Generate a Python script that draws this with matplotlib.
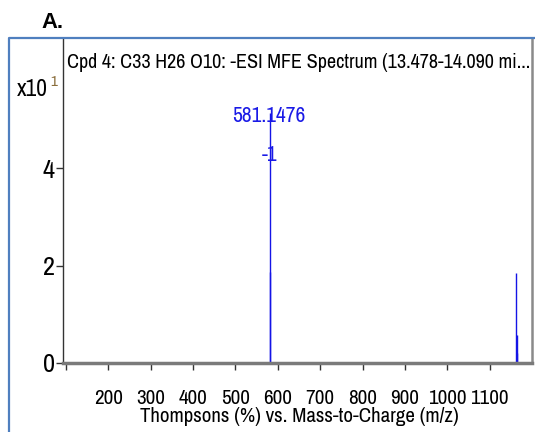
import matplotlib
matplotlib.use("Agg")
import matplotlib.pyplot as plt
from matplotlib.lines import Line2D

## spectrum data (intensity in units of x10^1)
mz = [581.1476, 582.15, 1163.30, 1164.30, 1165.30]
intensity = [5.13, 1.87, 1.85, 0.57, 0.20]
peak_label = "581.1476"
charge_label = "-1"
xtick_vals = [100, 200, 300, 400, 500, 600, 700, 800, 900, 1000, 1100]
xtick_text = ["", "200", "300", "400", "500", "600", "700", "800", "900", "1000", "1100"]
ytick_vals = [0, 2, 4]
title = "Cpd 4: C33 H26 O10: -ESI MFE Spectrum (13.478-14.090 mi..."
xlabel = "Thompsons (%) vs. Mass-to-Charge (m/z)"

narrow = ["Archivo Narrow", "Roboto Condensed", "DejaVu Sans"]
W, H = 535, 432

fig = plt.figure(figsize=(W/100, H/100), dpi=100)
renderer = fig.canvas.get_renderer()


def size_for_width(s, px, **kw):
    # font size (pt) that makes string s about px pixels wide
    t = fig.text(0, 0, s, fontsize=20, **kw)
    w = t.get_window_extent(renderer).width
    t.remove()
    return 20 * px / w


def fx(px):
    return px / W


def fy(py):
    return 1 - py / H


ax = fig.add_axes([fx(63), fy(363), (532 - 63)/W, (363 - 39)/H])

ax.vlines(mz, 0, intensity, colors="#1414e6", lw=1.0)

ax.set_xlim(93, 1200)
ax.set_ylim(0, 6.65)

xs = size_for_width("200", 29, family=narrow)
ys = size_for_width("4", 12, family=narrow)
ax.set_xticks(xtick_vals)
ax.set_xticklabels(xtick_text, family=narrow, fontsize=xs)
ax.set_yticks(ytick_vals)
ax.set_yticklabels([str(v) for v in ytick_vals], family=narrow, fontsize=ys)
ax.tick_params(axis="both", length=5, width=1, color="#333333")
ax.tick_params(axis="x", pad=14)
ax.tick_params(axis="y", pad=1)

# spines: gray shadow on bottom/right, no top
ax.spines["top"].set_visible(False)
ax.spines["left"].set_color("#333333")
ax.spines["left"].set_linewidth(1)
ax.spines["bottom"].set_color("#7a7a7a")
ax.spines["bottom"].set_linewidth(2.5)
ax.spines["right"].set_color("#8a8a8a")
ax.spines["right"].set_linewidth(1.8)

# axis label drawn at a fixed spot (it overlaps the tick labels)
fig.text(fx(299), fy(417), xlabel, ha="center", va="center", family=narrow,
         fontsize=size_for_width(xlabel, 318, family=narrow))

# peak annotation
pk = size_for_width(peak_label, 73, family=narrow)
ax.annotate(peak_label, (mz[0], intensity[0]), xytext=(fx(269), fy(116)),
            textcoords="figure fraction", ha="center", va="center",
            color="#1a1ae6", family=narrow, fontsize=pk)
ax.annotate(charge_label, (mz[0], intensity[0]), xytext=(fx(270), fy(155)),
            textcoords="figure fraction", ha="center", va="center",
            color="#1a1ae6", family=narrow, fontsize=pk)

# title inside the plot area
fig.text(fx(67), fy(63), title, ha="left", va="center", family=narrow,
         fontsize=size_for_width(title, 463, family=narrow))

# exponent label
fig.text(fx(17), fy(89), "x10", ha="left", va="center", family=narrow,
         fontsize=size_for_width("x10", 31, family=narrow))
fig.text(fx(50), fy(82), "1", ha="left", va="center", family=narrow, fontsize=11,
         color="#8a6d3b")

# panel letter
fig.text(fx(41), fy(22), "A.", ha="left", va="center", family="Liberation Sans",
         fontweight="bold", fontsize=size_for_width("A.", 22, family="Liberation Sans",
                                                    fontweight="bold"))

# blue outer frame (left and top edges)
fig.add_artist(Line2D([fx(9), fx(9), 1.0], [0.0, fy(38), fy(38)],
                      transform=fig.transFigure, color="#4f7fbf", lw=1.6))

fig.savefig("out.png", dpi=100)
